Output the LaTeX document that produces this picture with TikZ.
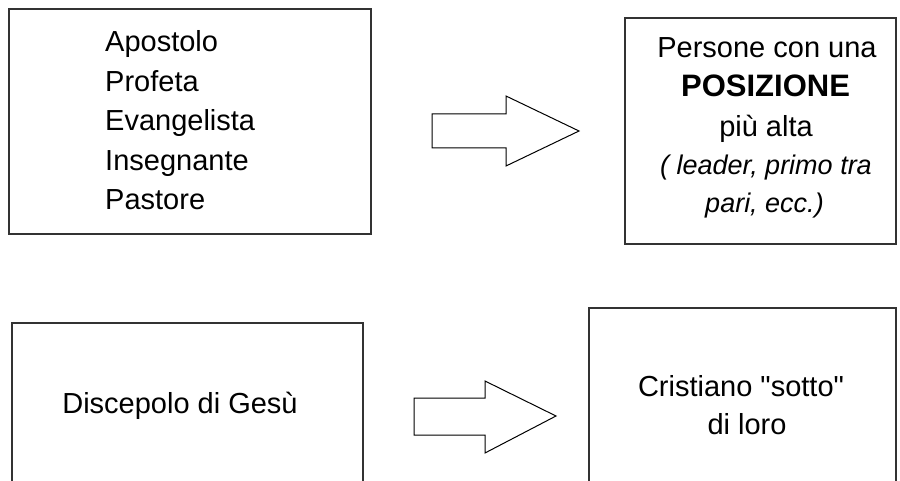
\documentclass[tikz,border=0pt]{standalone}
\usepackage{fontspec}
\setmainfont{Liberation Sans}
\usetikzlibrary{positioning}

\tikzset{
    frame/.style={draw=black!80, line width=1.5pt, inner sep=0pt},
    txt/.style={inner sep=0pt, font=\fontsize{29}{35}\selectfont},
    fat/.style={draw=black, line width=1pt, fill=white, line join=miter}
}

\begin{document}
\begin{tikzpicture}[x=1pt, y=-1pt]
    \useasboundingbox (0,0) rectangle (900,481);

    % Top row
    \node[frame, minimum width=362, minimum height=225] (roles) at (190,121.5) {};
    \foreach \name [count=\i] in {Apostolo, Profeta, Evangelista, Insegnante, Pastore} {
        \node[txt, anchor=base west] (role\i) at ({105},{52+39.5*(\i-1)}) {\name};
    }

    \node[frame, minimum width=271, minimum height=226] (rank) at (760.5,131) {};
    \node[txt, anchor=base] (rank1) at (767,58) {Persone con una};
    \node[txt, anchor=base, font=\fontsize{31}{37}\selectfont\bfseries] (rank2) at (765.5,97) {POSIZIONE};
    \node[txt, anchor=base] (rank3) at (766,137) {più alta};
    \node[txt, anchor=base, font=\fontsize{27}{33}\selectfont\itshape] (rank4) at (766,175) {( leader, primo tra};
    \node[txt, anchor=base, font=\fontsize{27}{33}\selectfont\itshape] (rank5) at (764.5,213) {pari, ecc.)};

    % Block arrow, top
    \draw[fat] (432,114) -- (506,114) -- (506,96) -- (579,131) -- (506,166) -- (506,148) -- (432,148) -- cycle;

    % Bottom row
    \node[frame, minimum width=351, minimum height=197] (disciple) at (187.5,421.5) {};
    \node[txt, anchor=base] (disciple1) at (180,413) {Discepolo di Gesù};

    \node[frame, minimum width=307, minimum height=212] (under) at (742.5,414) {};
    \node[txt, anchor=base] (under1) at (741,396) {Cristiano \textquotedbl sotto\textquotedbl};
    \node[txt, anchor=base] (under2) at (747,434) {di loro};

    % Block arrow, bottom
    \draw[fat] (414,398) -- (485,398) -- (485,381) -- (556,416) -- (485,453) -- (485,435) -- (414,435) -- cycle;
\end{tikzpicture}
\end{document}
